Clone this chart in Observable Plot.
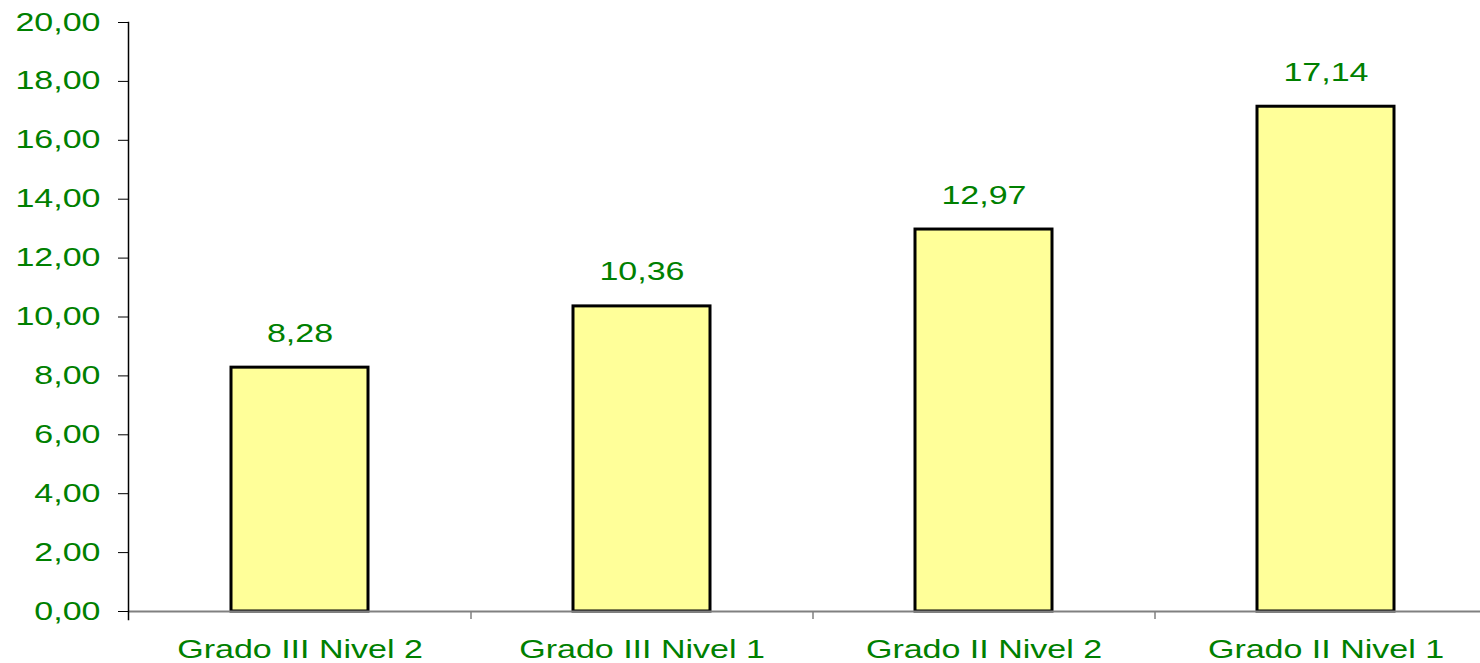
<!DOCTYPE html>
<html>
<head>
<meta charset="utf-8">
<script src="https://cdn.jsdelivr.net/npm/d3@7"></script>
<script src="https://cdn.jsdelivr.net/npm/@observablehq/plot@0.6"></script>
<style>
  html, body { margin: 0; padding: 0; background: #fff; }
  svg { display: block; }
</style>
</head>
<body>
<div id="chart"></div>
<script>
const categories = ["Grado III Nivel 2", "Grado III Nivel 1", "Grado II Nivel 2", "Grado II Nivel 1"];
const values = [8.28, 10.36, 12.97, 17.14];
const yTicks = [0, 2, 4, 6, 8, 10, 12, 14, 16, 18, 20];

const data = categories.map((c, i) => ({category: c, value: values[i]}));
const fmt = d => d.toFixed(2).replace(".", ",");
const green = "#008000";
const font = "'Liberation Sans', Arial, sans-serif";

const xRange = [128, 1496];
const step = (xRange[1] - xRange[0]) / categories.length;
const stretch = 1.36;

const chart = Plot.plot({
  width: 1480,
  height: 663,
  marginTop: 22,
  marginBottom: 52,
  marginLeft: 128,
  marginRight: 0,
  style: {fontFamily: font, fontSize: "25px", color: green, background: "#fff"},
  x: {domain: categories, range: xRange, paddingInner: 0.6, paddingOuter: 0.3, axis: null, label: null},
  y: {domain: [0, 20], axis: null, label: null},
  marks: [
    Plot.barY(data, {x: "category", y: "value", fill: "#FFFF99", stroke: "#000", strokeWidth: 3}),
    Plot.ruleY([0], {stroke: "#808080", strokeWidth: 2}),
    Plot.frame({anchor: "left", stroke: "#000", strokeWidth: 1.5, insetBottom: -8}),
    Plot.axisY({ticks: yTicks, tickFormat: fmt, tickSize: 10, tickPadding: 18, stroke: "#000", fill: green, fontSize: 25, label: null}),
    Plot.axisX({ticks: categories.slice(1), tickSize: 8, text: null, dx: -step / 2, stroke: "#808080", strokeWidth: 1.5, label: null}),
    Plot.axisX({tickSize: 0, tickPadding: 29, fill: green, fontSize: 25, label: null}),
    Plot.text(data, {x: "category", y: "value", text: d => fmt(d.value), dy: -34, fill: green, fontSize: 25})
  ]
});
document.getElementById("chart").appendChild(chart);

// Reference text is horizontally stretched; scale glyphs about their anchor
d3.select(chart).selectAll("text").each(function() {
  const x = this.getAttribute("x");
  if (x != null && !isNaN(+x)) this.setAttribute("x", +x / stretch);
  const t = this.getAttribute("transform") || "";
  this.setAttribute("transform", (t + ` scale(${stretch},1)`).trim());
});
</script>
</body>
</html>
